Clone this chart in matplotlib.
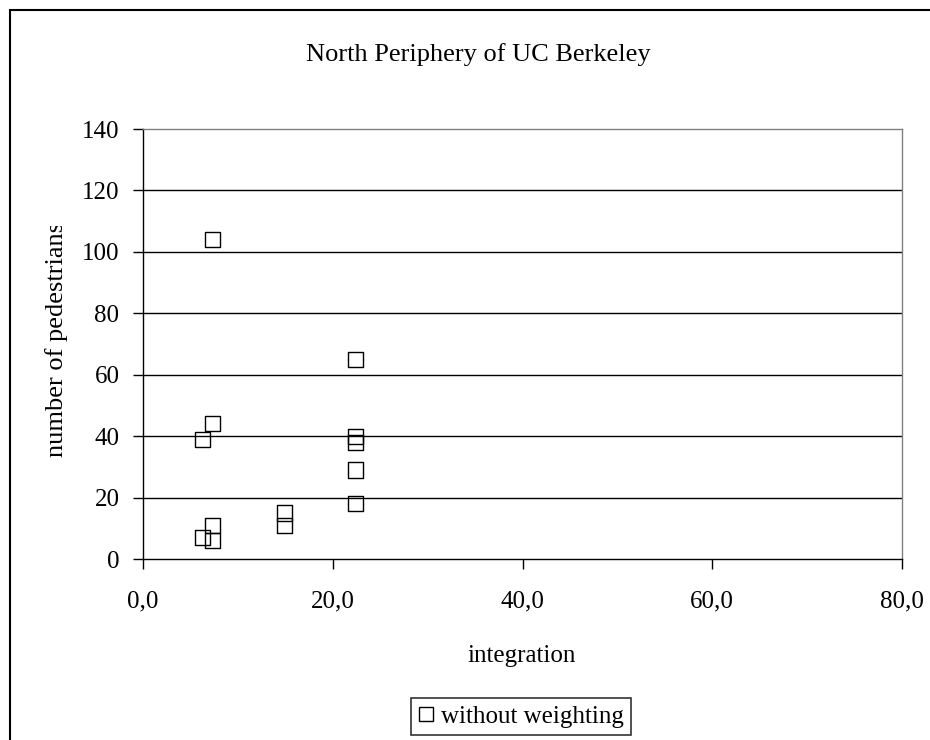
import matplotlib
matplotlib.use("Agg")
import matplotlib.pyplot as plt
from matplotlib.patches import Rectangle
from matplotlib.lines import Line2D
from matplotlib.transforms import Bbox
from matplotlib.ticker import FuncFormatter

plt.rcParams['font.family'] = ['Liberation Serif', 'DejaVu Serif']

title = "North Periphery of UC Berkeley"
x_label = "integration"
y_label = "number of pedestrians"
series_name = "without weighting"

integration = [7.35, 22.4, 7.35, 6.3, 22.4, 22.4, 22.4, 22.4, 14.9, 14.9, 7.35, 7.35, 6.3]
pedestrians = [104, 65, 44, 39, 40, 38, 29, 18, 15, 11, 11, 6, 7]

x_ticks = [0, 20, 40, 60, 80]
y_ticks = [0, 20, 40, 60, 80, 100, 120, 140]

W, H = 930, 740
fig = plt.figure(figsize=(W / 100, H / 100), dpi=100)
fig.patch.set_facecolor('white')

L, R, B, T = 143, 902, 559, 129
ax = fig.add_axes([L / W, 1 - B / H, (R - L) / W, (B - T) / H])
ax.set_xlim(0, 80)
ax.set_ylim(0, 140)

ax.scatter(integration, pedestrians, marker='s', s=11.0 ** 2, facecolors='none',
           edgecolors='black', linewidths=1.0, zorder=3)

ax.set_xticks(x_ticks)
ax.set_yticks(y_ticks)
ax.xaxis.set_major_formatter(FuncFormatter(lambda v, p: f"{v:.1f}".replace('.', ',')))
ax.yaxis.set_major_formatter(FuncFormatter(lambda v, p: f"{int(v)}"))
ax.tick_params(axis='both', direction='out', length=7, width=1.0, colors='black',
               labelsize=18)
ax.tick_params(axis='y', pad=10)
ax.tick_params(axis='x', pad=16)

for yv in y_ticks[1:-1]:
    ax.axhline(yv, color='black', lw=1.0, zorder=1)

for side in ['top', 'right']:
    ax.spines[side].set_color('#808080')
    ax.spines[side].set_linewidth(1.0)
for side in ['left', 'bottom']:
    ax.spines[side].set_color('black')
    ax.spines[side].set_linewidth(1.0)

fig.text(478 / W, 1 - 55 / H, title, ha='center', va='center', fontsize=19)
fig.text(522 / W, 1 - 656 / H, x_label, ha='center', va='center', fontsize=18)

yl = fig.text(57 / W, 1 - 457 / H, y_label, rotation=90, ha='center', va='bottom',
              fontsize=19)
yl.set_clip_box(Bbox([[0, 0], [W, H - 226]]))
yl.set_clip_on(True)

handle = Line2D([], [], marker='s', linestyle='none', markersize=10,
                markerfacecolor='none', markeredgecolor='black', markeredgewidth=1.0)
leg = fig.legend([handle], [series_name], loc='center',
                 bbox_to_anchor=(521 / W, 1 - 716.5 / H), fontsize=18,
                 frameon=True, fancybox=False, handlelength=0.6, handletextpad=0.3,
                 borderpad=0.3, borderaxespad=0)
leg.get_frame().set_edgecolor('black')
leg.get_frame().set_linewidth(1.2)

frame = Rectangle((9.5 / W, -0.5), 2.0, 1 - 10 / H + 0.5, transform=fig.transFigure,
                  fill=False, edgecolor='black', linewidth=1.5, clip_on=False)
fig.patches.append(frame)

fig.savefig("out.png", dpi=100)
